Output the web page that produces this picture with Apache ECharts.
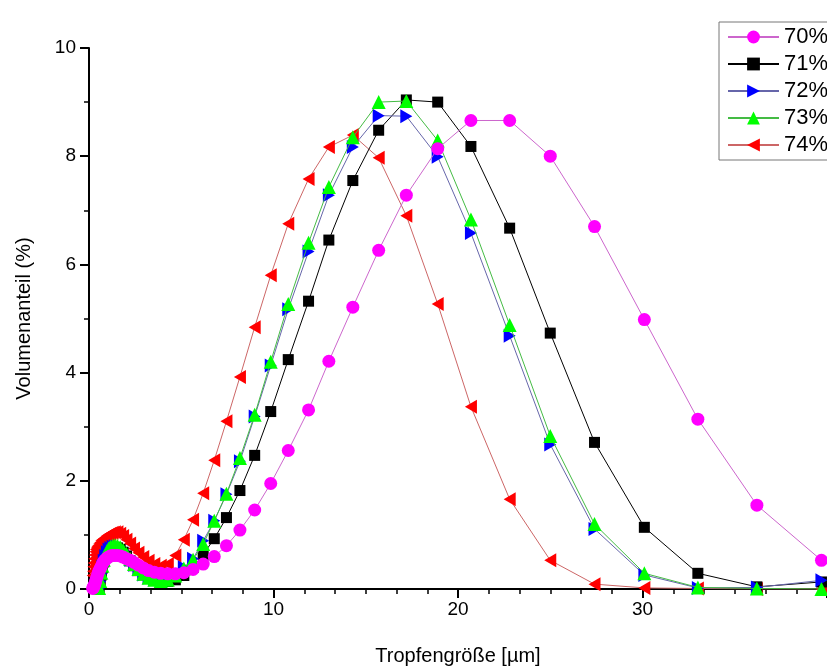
<!DOCTYPE html>
<html>
<head>
<meta charset="utf-8">
<script src="https://cdn.jsdelivr.net/npm/echarts@6/dist/echarts.min.js"></script>
<style>
  html, body { margin: 0; padding: 0; background: #fff; }
  #chart { width: 827px; height: 671px; }
</style>
</head>
<body>
<div id="chart"></div>
<script>
// droplet size classes (µm)
const sizes = [0.20, 0.22, 0.24, 0.26, 0.29, 0.32, 0.35, 0.38, 0.42, 0.46,
  0.50, 0.55, 0.61, 0.67, 0.73, 0.80, 0.88, 0.97, 1.06, 1.16,
  1.28, 1.40, 1.54, 1.69, 1.85, 2.03, 2.23, 2.44, 2.68, 2.94,
  3.23, 3.54, 3.89, 4.27, 4.68, 5.14, 5.64, 6.19, 6.79, 7.45,
  8.18, 8.98, 9.85, 10.8, 11.9, 13.0, 14.3, 15.7, 17.2, 18.9,
  20.7, 22.8, 25.0, 27.4, 30.1, 33.0, 36.2, 39.7]

// volume fraction (%) per series
const vol70 = [0.01, 0.02, 0.03, 0.05, 0.07, 0.10, 0.13, 0.17, 0.21, 0.26,
  0.30, 0.34, 0.38, 0.42, 0.47, 0.51, 0.54, 0.57, 0.59, 0.61,
  0.62, 0.62, 0.62, 0.61, 0.59, 0.56, 0.53, 0.49, 0.44, 0.39,
  0.34, 0.31, 0.29, 0.28, 0.28, 0.30, 0.36, 0.46, 0.60, 0.80,
  1.09, 1.46, 1.95, 2.56, 3.31, 4.21, 5.21, 6.26, 7.28, 8.14,
  8.66, 8.66, 8.00, 6.70, 4.98, 3.14, 1.55, 0.53]
const vol71 = [null, null, null, null, null, null, null, null, null, null,
  null, 0.02, 0.12, 0.26, 0.39, 0.50, 0.59, 0.66, 0.71, 0.74,
  0.76, 0.77, 0.76, 0.73, 0.68, 0.61, 0.52, 0.43, 0.34, 0.26,
  0.20, 0.16, 0.14, 0.14, 0.17, 0.25, 0.40, 0.64, 0.93, 1.32,
  1.82, 2.47, 3.28, 4.24, 5.32, 6.45, 7.55, 8.48, 9.04, 9.00,
  8.18, 6.67, 4.73, 2.71, 1.14, 0.29, 0.04, 0.13]
const vol72 = [null, null, null, null, null, null, null, null, null, null,
  null, 0.02, 0.14, 0.28, 0.41, 0.52, 0.61, 0.68, 0.73, 0.76,
  0.78, 0.79, 0.78, 0.75, 0.70, 0.63, 0.54, 0.45, 0.36, 0.27,
  0.21, 0.17, 0.16, 0.18, 0.26, 0.40, 0.56, 0.89, 1.26, 1.75,
  2.36, 3.19, 4.13, 5.17, 6.24, 7.28, 8.17, 8.75, 8.74, 7.99,
  6.58, 4.68, 2.67, 1.11, 0.26, 0.02, 0.03, 0.16]
const vol73 = [null, null, null, null, null, null, null, null, null, null,
  null, 0.02, 0.15, 0.30, 0.43, 0.54, 0.63, 0.70, 0.75, 0.78,
  0.80, 0.81, 0.80, 0.77, 0.72, 0.65, 0.56, 0.46, 0.37, 0.28,
  0.21, 0.17, 0.15, 0.17, 0.25, 0.38, 0.54, 0.83, 1.26, 1.76,
  2.42, 3.22, 4.20, 5.27, 6.40, 7.43, 8.35, 9.00, 9.02, 8.29,
  6.83, 4.88, 2.83, 1.20, 0.29, 0.03, 0.01, 0.00]
const vol74 = [0.25, 0.33, 0.41, 0.48, 0.56, 0.63, 0.69, 0.73, 0.76, 0.78,
  0.80, 0.83, 0.86, 0.89, 0.91, 0.93, 0.95, 0.98, 1.00, 1.02,
  1.04, 1.05, 1.05, 1.02, 0.98, 0.91, 0.84, 0.75, 0.67, 0.59,
  0.52, 0.46, 0.43, 0.46, 0.62, 0.91, 1.28, 1.77, 2.38, 3.10,
  3.92, 4.84, 5.80, 6.75, 7.58, 8.17, 8.39, 7.97, 6.90, 5.27,
  3.37, 1.66, 0.53, 0.09, 0.02, 0.01, 0.00, 0.00]

const seriesNames = ['70%', '71%', '72%', '73%', '74%']

const font = "'Liberation Sans', Arial, sans-serif"

function pairs(vals) {
  const out = []
  sizes.forEach((x, i) => {
    if (vals[i] !== null) out.push([x, vals[i]])
  })
  return out
}

function mk(name, vals, symbol, size, markerColor, lineColor, z) {
  return {
    name: name,
    type: 'line',
    data: pairs(vals),
    symbol: symbol,
    symbolSize: size,
    z: z,
    itemStyle: { color: markerColor, borderWidth: 0 },
    lineStyle: { color: lineColor, width: 1 },
    emphasis: { disabled: true },
    animation: false
  }
}

const chart = echarts.init(document.getElementById('chart'))

chart.setOption({
  backgroundColor: '#fff',
  textStyle: { fontFamily: font },
  grid: { left: 89, top: 48, right: 0, bottom: 79 },
  legend: {
    orient: 'vertical',
    left: 719,
    top: 22,
    padding: [4, 12, 4, 8],
    itemWidth: 51,
    itemHeight: 16,
    itemGap: 5,
    borderColor: '#777',
    borderWidth: 1,
    backgroundColor: '#fff',
    textStyle: { fontSize: 22, color: '#000', fontFamily: font, lineHeight: 22 },
    data: seriesNames
  },
  xAxis: {
    type: 'value',
    min: 0,
    max: 40,
    interval: 10,
    name: 'Tropfengröße [µm]',
    nameLocation: 'middle',
    nameGap: 57,
    nameTextStyle: { fontSize: 20, color: '#000', fontFamily: font },
    axisLine: { lineStyle: { color: '#000', width: 2 } },
    axisTick: { length: 9, lineStyle: { color: '#000', width: 2 } },
    minorTick: { show: true, splitNumber: 6, length: 5, lineStyle: { color: '#000', width: 1.5 } },
    axisLabel: { fontSize: 19, color: '#000', margin: 11, showMaxLabel: false, fontFamily: font },
    splitLine: { show: false }
  },
  yAxis: {
    type: 'value',
    min: 0,
    max: 10,
    interval: 2,
    name: 'Volumenanteil (%)',
    nameLocation: 'middle',
    nameGap: 55,
    nameTextStyle: { fontSize: 20, color: '#000', fontFamily: font },
    axisLine: { show: true, lineStyle: { color: '#000', width: 2 } },
    axisTick: { show: true, length: 9, lineStyle: { color: '#000', width: 2 } },
    minorTick: { show: true, splitNumber: 2, length: 5, lineStyle: { color: '#000', width: 1.5 } },
    axisLabel: { fontSize: 19, color: '#000', margin: 13, fontFamily: font },
    splitLine: { show: false }
  },
  series: [
    mk('70%', vol70, 'circle', 13, '#ff00ff', '#cc66cc', 6),
    mk('71%', vol71, 'rect', 11, '#000000', '#000000', 3),
    mk('72%', vol72, 'path://M0,0L10,5L0,10Z', [12, 14], '#0000ff', '#6666aa', 4),
    mk('73%', vol73, 'triangle', 14, '#00ff00', '#44bb44', 5),
    mk('74%', vol74, 'path://M10,0L0,5L10,10Z', [12, 14], '#ff0000', '#cc6666', 2)
  ]
})
</script>
</body>
</html>
